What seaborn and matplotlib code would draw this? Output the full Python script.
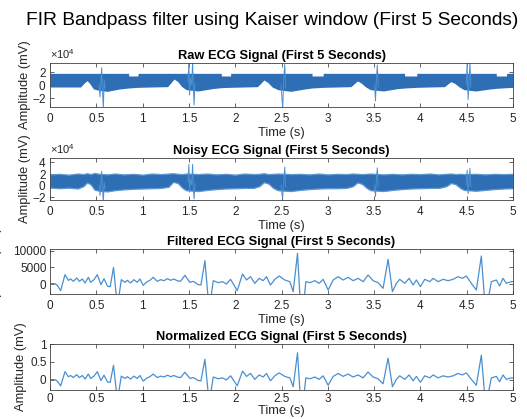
import numpy as np
import pandas as pd
import matplotlib
matplotlib.use("Agg")
import matplotlib.pyplot as plt
import matplotlib.ticker as mticker
import seaborn as sns

# ---------------- data ----------------
x_ticks = [0, 0.5, 1, 1.5, 2, 2.5, 3, 3.5, 4, 4.5, 5]

# Raw ECG: envelope of the dense mains-like oscillation band (x 1e4)
raw_env_t = [0.00, 0.33, 0.37, 0.40, 0.43, 0.47, 0.53, 0.62, 0.75, 0.849, 0.85, 0.95, 0.951,
             1.10, 1.27, 1.31, 1.34, 1.38, 1.42, 1.47, 1.60, 1.75, 1.849, 1.85, 1.95, 1.951,
             2.10, 2.24, 2.28, 2.31, 2.35, 2.40, 2.46, 2.60, 2.75, 2.829, 2.83, 2.95, 2.951,
             3.10, 3.25, 3.29, 3.32, 3.36, 3.41, 3.46, 3.60, 3.75, 3.829, 3.83, 3.96, 3.961,
             4.10, 4.26, 4.30, 4.33, 4.37, 4.42, 4.47, 4.60, 4.75, 4.819, 4.82, 4.93, 4.931, 5.00]
raw_upper = [1.75, 1.75, 1.75, 1.75, 1.75, 1.75, 1.75, 1.75, 1.75, 1.75, 1.35, 1.35, 1.75,
             1.75, 1.75, 1.75, 1.75, 1.75, 1.75, 1.75, 1.75, 1.75, 1.75, 1.35, 1.35, 1.75,
             1.75, 1.75, 1.75, 1.75, 1.75, 1.75, 1.75, 1.75, 1.75, 1.75, 1.35, 1.35, 1.75,
             1.75, 1.75, 1.75, 1.75, 1.75, 1.75, 1.75, 1.75, 1.75, 1.75, 1.35, 1.35, 1.75,
             1.75, 1.75, 1.75, 1.75, 1.75, 1.75, 1.75, 1.75, 1.75, 1.75, 1.35, 1.35, 1.75, 1.75]
raw_lower = [-0.30, -0.30, 0.30, 0.65, 0.20, -0.60, -0.80, -0.95, -0.60, -0.45, -0.45, -0.35, -0.35,
             -0.30, -0.25, 0.40, 0.90, 0.50, -0.20, -0.70, -0.90, -0.55, -0.40, -0.40, -0.35, -0.35,
             -0.30, -0.25, 0.30, 0.75, 0.40, -0.30, -0.70, -0.95, -0.60, -0.45, -0.45, -0.35, -0.35,
             -0.30, -0.25, 0.25, 0.60, 0.30, -0.30, -0.70, -0.90, -0.55, -0.45, -0.45, -0.35, -0.35,
             -0.30, -0.25, 0.20, 0.50, 0.25, -0.30, -0.70, -0.90, -0.60, -0.50, -0.50, -0.40, -0.40, -0.35]

# Raw ECG: QRS complexes (x 1e4)
raw_qrs_beat = [1] * 8 + [2] * 9 + [3] * 6 + [4] * 5 + [5] * 6
raw_qrs_t = [0.530, 0.540, 0.550, 0.558, 0.566, 0.576, 0.585, 0.595,
             1.490, 1.500, 1.507, 1.516, 1.530, 1.540, 1.548, 1.556, 1.566,
             2.495, 2.505, 2.513, 2.525, 2.535, 2.545,
             3.505, 3.515, 3.525, 3.535, 3.545,
             4.495, 4.505, 4.515, 4.525, 4.535, 4.545]
raw_qrs_v = [0.0, -1.8, 0.5, 2.6, -0.5, -3.6, 0.8, -0.5,
             0.5, 3.5, -1.5, 1.0, 0.0, 3.5, -0.5, -3.0, 0.3,
             0.0, -2.0, -3.5, 1.0, 3.1, -0.5,
             0.0, -2.4, 1.0, 3.0, -0.3,
             0.0, 3.4, -2.2, 0.5, 3.4, -0.3]

# Noisy ECG: envelope of the noise band (x 1e4)
noisy_env_t = [0.00, 0.10, 0.20, 0.30, 0.36, 0.40, 0.44, 0.48, 0.53, 0.62, 0.70, 0.80, 0.90,
               1.00, 1.10, 1.20, 1.28, 1.33, 1.38, 1.43, 1.47, 1.60, 1.70, 1.80, 1.90,
               2.00, 2.10, 2.20, 2.26, 2.31, 2.36, 2.41, 2.46, 2.60, 2.70, 2.80, 2.90,
               3.00, 3.10, 3.20, 3.27, 3.32, 3.37, 3.42, 3.46, 3.60, 3.70, 3.80, 3.90,
               4.00, 4.10, 4.20, 4.28, 4.33, 4.38, 4.43, 4.47, 4.60, 4.70, 4.80, 4.90, 5.00]
noisy_upper = [1.85, 1.95, 1.80, 2.00, 1.90, 2.05, 1.90, 2.10, 1.95, 1.85, 2.00, 1.85, 1.95,
               1.80, 2.00, 1.90, 2.00, 2.05, 1.95, 1.90, 2.00, 1.90, 2.00, 1.85, 1.95,
               1.80, 2.00, 1.90, 1.95, 2.05, 1.90, 1.95, 2.00, 1.90, 1.95, 1.85, 2.00,
               1.85, 1.95, 1.90, 2.00, 1.95, 1.90, 1.95, 2.00, 1.85, 1.95, 1.85, 1.95,
               1.90, 2.00, 1.85, 1.95, 2.00, 1.90, 1.95, 1.90, 1.95, 1.85, 1.95, 1.90, 1.95]
noisy_lower = [-0.45, -0.55, -0.45, -0.60, -0.20, 0.45, 0.10, -0.80, -1.00, -1.10, -0.90, -0.75, -0.65,
               -0.60, -0.55, -0.50, -0.30, 0.55, 0.35, -0.50, -0.90, -1.05, -0.85, -0.70, -0.60,
               -0.55, -0.50, -0.50, -0.20, 0.50, 0.25, -0.50, -0.90, -1.05, -0.85, -0.70, -0.60,
               -0.55, -0.55, -0.50, -0.20, 0.45, 0.20, -0.50, -0.90, -1.05, -0.85, -0.70, -0.60,
               -0.55, -0.50, -0.50, -0.20, 0.35, 0.15, -0.50, -0.85, -1.00, -0.85, -0.70, -0.60, -0.55]

# Noisy ECG: QRS complexes (x 1e4)
noisy_qrs_beat = [1] * 8 + [2] * 9 + [3] * 6 + [4] * 5 + [5] * 6
noisy_qrs_t = raw_qrs_t
noisy_qrs_v = [0.0, -1.8, 0.5, 2.4, -0.5, -3.0, 0.5, -0.6,
               0.5, 3.6, -1.2, 1.0, 0.0, 3.6, -0.5, -2.4, 0.3,
               0.0, -1.6, -2.2, 1.0, 3.1, -0.3,
               0.0, -2.0, 1.0, 3.0, -0.3,
               0.0, 2.6, -1.5, 0.5, 2.9, -0.3]

# Kaiser-window FIR band-pass output
filt_t = [0.000, 0.054, 0.079, 0.115, 0.162, 0.198, 0.223, 0.252, 0.288, 0.317, 0.349, 0.378,
          0.414, 0.439, 0.475, 0.511, 0.550, 0.583, 0.622, 0.650, 0.686, 0.728, 0.770, 0.809,
          0.835, 0.871, 0.906, 0.942, 0.971, 1.007, 1.043, 1.079, 1.115, 1.158, 1.194, 1.230,
          1.270, 1.302, 1.338, 1.374, 1.410, 1.457, 1.511, 1.547, 1.601, 1.630, 1.673, 1.719,
          1.763, 1.817, 1.863, 1.906, 1.950, 2.022, 2.079, 2.122, 2.165, 2.212, 2.259, 2.302,
          2.338, 2.381, 2.428, 2.475, 2.536, 2.590, 2.626, 2.673, 2.716, 2.763, 2.806, 2.860,
          2.906, 2.950, 3.004, 3.058, 3.112, 3.165, 3.219, 3.273, 3.327, 3.381, 3.435, 3.489,
          3.543, 3.597, 3.651, 3.698, 3.741, 3.777, 3.831, 3.878, 3.921, 3.957, 4.000, 4.047,
          4.101, 4.137, 4.191, 4.245, 4.299, 4.353, 4.406, 4.453, 4.496, 4.550, 4.604, 4.658,
          4.705, 4.766, 4.820, 4.856, 4.892, 4.928, 4.982, 5.000]
filt_v = [100, 100, -400, -2000, 2800, 1100, 1500, 800, 1800, 800, 1500, 300,
          2000, 500, 1300, 2800, -200, 1600, -700, -800, 5000, -7000, 1300, 500,
          1100, 300, 1300, 500, 1500, -400, 600, 1100, 2000, 800, 1300, 1000,
          1600, 1100, 1500, 1000, 800, 2600, 500, 800, -200, -300, 7000, -8000,
          1000, 400, 700, 0, 1400, -2000, 3000, 1200, 2200, 200, 1700, 1000,
          2200, -300, 1400, 2400, 1200, 700, -2300, 9200, -12200, 700, 400, 1000,
          200, 1400, -1800, 1200, 2200, 1200, 2000, 1000, 1700, 700, 2700, 1000,
          400, -1300, 7400, -2300, 200, 1400, 200, 1700, -300, 1200, -800, 1400,
          700, 1700, 700, 1400, 1000, 1400, 2200, 1700, 2400, 200, -1800, 8400,
          -9000, 700, 1200, -600, 1700, 200, 700, 700]

# ---------------- style ----------------
sns.set_theme(style="ticks")
plt.rcParams["font.family"] = ["Liberation Sans", "DejaVu Sans"]
plt.rcParams["axes.unicode_minus"] = False
plt.rcParams["mathtext.fontset"] = "custom"
plt.rcParams["mathtext.rm"] = "Liberation Sans"
plt.rcParams["lines.solid_joinstyle"] = "round"

THIN = "#4a8fd0"
BAND = "#2E6EB5"
EDGE = "#5f97d0"
TXT = "#262626"

fig = plt.figure(figsize=(5.27, 4.19), dpi=100)
W, H = 527.0, 419.0


def make_axes(top_px, bottom_px):
    return fig.add_axes([50 / W, 1 - bottom_px / H, 463 / W, (bottom_px - top_px) / H])


def style(ax, title, yticks, ylim, sci=False, ylab_x=-0.042, xpad=4.5, xlabpad=1):
    ax.set_xlim(0, 5)
    ax.set_ylim(*ylim)
    ax.set_xticks(x_ticks)
    ax.xaxis.set_major_formatter(mticker.FuncFormatter(lambda v, p: f"{v:g}"))
    ax.set_yticks(yticks)
    if sci:
        fmt = mticker.ScalarFormatter(useMathText=True)
        fmt.set_powerlimits((0, 0))
        ax.yaxis.set_major_formatter(fmt)
        ax.yaxis.get_offset_text().set_fontsize(8)
        ax.yaxis.get_offset_text().set_color(TXT)
    else:
        ax.yaxis.set_major_formatter(mticker.FuncFormatter(lambda v, p: f"{v:g}"))
    ax.tick_params(direction="in", length=3, width=0.5, top=True, right=True,
                   labelsize=8.5, colors=TXT)
    ax.tick_params(axis="x", pad=xpad)
    ax.tick_params(axis="y", pad=2.5)
    for s in ax.spines.values():
        s.set_visible(True)
        s.set_linewidth(0.6)
        s.set_color("#404040")
    ax.set_title(title, fontsize=9.3, fontweight="bold", pad=3, color="black")
    ax.set_xlabel("Time (s)", fontsize=9.3, labelpad=xlabpad, color=TXT)
    ax.set_ylabel("Amplitude (mV)", fontsize=9.3, color=TXT)
    ax.yaxis.set_label_coords(ylab_x, 0.5)
    ax.grid(False)


# Raw ECG
ax1 = make_axes(63, 107)
ax1.fill_between(raw_env_t, np.array(raw_lower) * 1e4, np.array(raw_upper) * 1e4,
                 color=BAND, linewidth=0)
raw_qrs = pd.DataFrame({"t": raw_qrs_t, "v": np.array(raw_qrs_v) * 1e4, "beat": raw_qrs_beat})
sns.lineplot(data=raw_qrs, x="t", y="v", units="beat", estimator=None, color=THIN,
             linewidth=0.7, ax=ax1, legend=False)
style(ax1, "Raw ECG Signal (First 5 Seconds)", [-2e4, 0, 2e4], (-3.3e4, 3.3e4), sci=True)

# Noisy ECG
ax2 = make_axes(158, 200)
ax2.fill_between(noisy_env_t, np.array(noisy_lower) * 1e4, np.array(noisy_upper) * 1e4,
                 facecolor=BAND, edgecolor=EDGE, linewidth=0.9)
noisy_qrs = pd.DataFrame({"t": noisy_qrs_t, "v": np.array(noisy_qrs_v) * 1e4, "beat": noisy_qrs_beat})
sns.lineplot(data=noisy_qrs, x="t", y="v", units="beat", estimator=None, color=THIN,
             linewidth=0.7, ax=ax2, legend=False)
style(ax2, "Noisy ECG Signal (First 5 Seconds)", [-2e4, 0, 2e4, 4e4], (-2.6e4, 4.7e4), sci=True)

# Filtered ECG
ax3 = make_axes(249, 294)
sns.lineplot(x=filt_t, y=filt_v, color=THIN, linewidth=0.9, ax=ax3, estimator=None)
style(ax3, "Filtered ECG Signal (First 5 Seconds)", [0, 5000, 10000], (-3000, 10500),
      ylab_x=-0.103)

# Normalized ECG
filt_arr = np.array(filt_v, dtype=float)
norm_v = filt_arr / np.max(np.abs(filt_arr))
ax4 = make_axes(344, 390)
sns.lineplot(x=filt_t, y=norm_v, color=THIN, linewidth=0.9, ax=ax4, estimator=None)
style(ax4, "Normalized ECG Signal (First 5 Seconds)", [0, 0.5, 1], (-0.28, 1.0),
      ylab_x=-0.05, xpad=2.5, xlabpad=0)

fig.text(0.517, 1 - 25 / H, "FIR Bandpass filter using Kaiser window (First 5 Seconds)",
         ha="center", va="baseline", fontsize=13.8, color="black")

fig.savefig("out.png", dpi=100)
